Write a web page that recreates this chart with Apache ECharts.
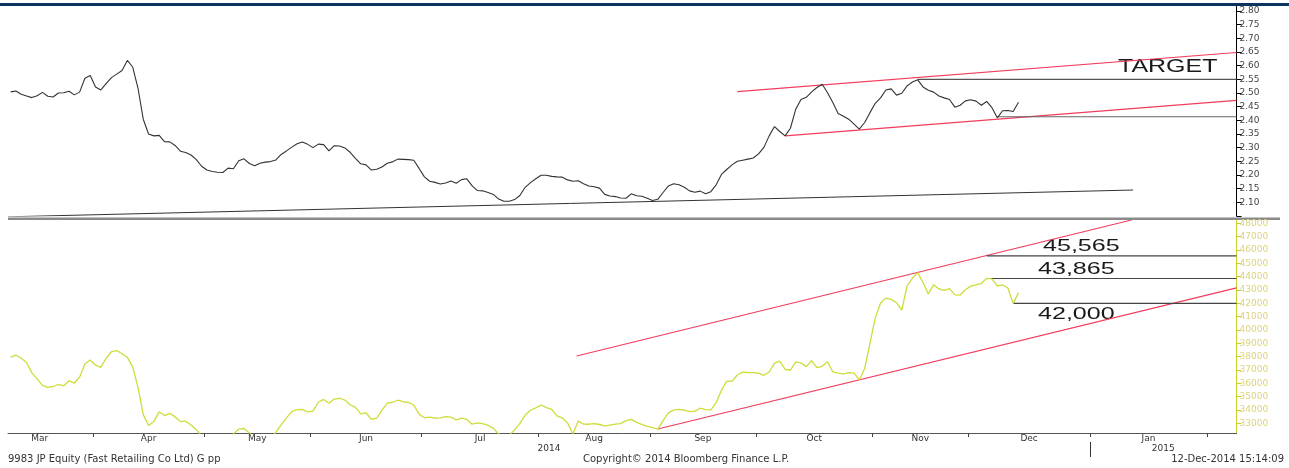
<!DOCTYPE html>
<html><head><meta charset="utf-8">
<script src="https://cdn.jsdelivr.net/npm/echarts@6/dist/echarts.min.js"></script>
<style>html,body{margin:0;padding:0;background:#fff;}#c{width:1289px;height:468px;}</style>
</head><body><div id="c"></div>
<script>
// ---- calendar (trading-day index axis) ----
const months = ['Mar','Apr','May','Jun','Jul','Aug','Sep','Oct','Nov','Dec','Jan','Feb'];
const monthTradingDays = [20,21,20,21,22,21,20,22,18,23,22,20];
const hiddenDaysBeforeStart = 4;          // March trading days before the first plotted day
const yearNames = ['2014','2015'];
const yearStartMonth = 'Jan';

// ---- tick labels ----
const ratioTickValues = [2.05,2.10,2.15,2.20,2.25,2.30,2.35,2.40,2.45,2.50,2.55,2.60,2.65,2.70,2.75,2.80];
const ratioLabelValues = [2.10,2.15,2.20,2.25,2.30,2.35,2.40,2.45,2.50,2.55,2.60,2.65,2.70,2.75,2.80];
const priceTickValues = [33000,34000,35000,36000,37000,38000,39000,40000,41000,42000,43000,44000,45000,46000,47000,48000];

// ---- series: 9983 JP relative (G pp) ratio, daily ----
const ratioSeries = [
2.504,2.507,2.495,2.489,2.483,2.490,2.502,2.488,2.485,2.500,2.501,2.506,2.493,2.503,2.554,2.564,
2.522,2.511,2.534,2.556,2.569,2.582,2.619,2.595,2.518,2.404,2.350,2.343,2.345,2.322,2.321,2.308,2.287,2.282,2.273,2.256,2.232,
2.218,2.213,2.210,2.209,2.225,2.223,2.252,2.259,2.242,2.234,2.243,2.247,2.249,2.255,2.275,2.288,2.302,2.314,2.321,2.312,
2.300,2.313,2.311,2.288,2.307,2.306,2.299,2.283,2.261,2.241,2.237,2.218,2.221,2.229,2.243,2.248,2.258,2.257,2.256,2.254,2.224,
2.193,2.177,2.173,2.167,2.171,2.178,2.170,2.183,2.186,2.160,2.143,2.142,2.136,2.129,2.112,2.104,2.104,2.110,2.125,2.155,2.172,2.186,
2.199,2.199,2.195,2.193,2.192,2.182,2.177,2.179,2.168,2.160,2.157,2.152,2.129,2.123,2.121,2.116,2.115,2.131,2.124,2.122,2.115,
2.107,2.111,2.136,2.160,2.168,2.164,2.155,2.142,2.137,2.141,2.131,2.139,2.164,2.202,2.220,2.237,2.250,2.254,2.258,2.262,
2.277,2.301,2.343,2.377,2.359,2.343,2.371,2.440,2.476,2.484,2.504,2.520,2.532,2.501,2.465,2.425,2.415,2.404,2.386,2.368,2.392,2.428,
2.462,2.482,2.511,2.515,2.492,2.499,2.526,2.540,2.548,2.522,2.510,2.503,2.489,2.482,2.476,2.448,2.455,2.471,
2.475,2.470,2.455,2.469,2.446,2.409,2.435,2.436,2.432,2.466
];
// ---- series: 9983 JP price (JPY), daily ----
const priceSeries = [
37970,38110,37880,37560,36780,36330,35850,35690,35760,35910,35820,36190,36020,36460,37450,37750,
37360,37200,37880,38370,38460,38220,37950,37230,35710,33650,32830,33140,33860,33580,33750,33480,33130,33160,32870,32520,32050,
31750,31600,31670,31750,31970,32200,32570,32610,32270,31900,31670,31750,31970,32310,32880,33410,33880,34020,34050,33850,
33910,34580,34790,34500,34820,34880,34740,34390,34190,33710,33790,33290,33380,33980,34520,34580,34730,34630,34560,34370,33690,
33410,33470,33380,33410,33500,33470,33260,33380,33290,32930,33030,32980,32850,32620,32200,32050,32120,32490,32990,33620,33980,34160,
34370,34170,34050,33560,33400,33020,32200,33170,32940,32930,32980,32910,32810,32870,32930,32980,33200,33290,33070,32920,32770,
32680,32570,33200,33780,34000,34040,33980,33880,33910,34130,34030,34010,34550,35470,36160,36160,36620,36840,36800,36800,
36770,36600,36850,37520,37670,37050,36980,37610,37530,37250,37700,37170,37280,37620,36850,36770,36700,36800,36770,36250,37110,38990,
40910,42020,42390,42300,42050,41500,43320,43900,44300,43560,42700,43400,43080,42980,43100,42630,42620,43020,
43290,43380,43490,43880,43830,43310,43380,43150,42000,42800
];

// ---- drawn trend lines / levels, [trading-day index, value] ----
const ratioChannelUpper = [[137, 2.505], [231.1, 2.648]];
const ratioChannelLower = [[146, 2.343], [231.1, 2.473]];
const ratioTargetLevel  = [[171, 2.55], [231.1, 2.55]];
const ratioSupportLevel = [[186, 2.413], [231.1, 2.413]];
const ratioLongTrend    = [[-0.5, 2.047], [211.6, 2.145]];
const priceChannelUpper = [[106.7, 38050], [211.3, 48253]];
const priceChannelLower = [[122, 32570], [231.1, 43164]];
const priceLevel45565   = [[184, 45565], [231.1, 45565]];
const priceLevel43865   = [[184.6, 43865], [231.1, 43865]];
const priceLevel42000   = [[189, 42000], [231.1, 42000]];

// ---- derived axis helpers ----
const X_MIN = -0.5, X_MAX = 231.1;
const monthBounds = [], monthLabelPos = [], monthLabelText = {};
let start = -hiddenDaysBeforeStart;
let yearBound = null;
months.forEach((m, k) => {
  const b = start - 0.5;
  if (b > X_MIN && b < X_MAX) monthBounds.push(b);
  if (m === yearStartMonth) yearBound = b;
  const c = b + monthTradingDays[k] / 2;
  if (c > X_MIN && c < X_MAX) { monthLabelPos.push(c); monthLabelText[c.toFixed(2)] = m; }
  start += monthTradingDays[k];
});
const yearLabelPos = [(X_MIN + yearBound) / 2, (yearBound + X_MAX) / 2];
const yearLabelText = {};
yearLabelPos.forEach((p, i) => yearLabelText[p.toFixed(2)] = yearNames[i]);

const FONT = 'DejaVu Sans';
const RED = '#f23c5c';
const YEL = '#cfdc3a';

function lineSeries(data, xi, yi, color, width, z) {
  return { type: 'line', xAxisIndex: xi, yAxisIndex: yi, data: data, showSymbol: false, symbol: 'none',
    lineStyle: { color: color, width: width }, silent: true, animation: false, z: z || 2 };
}

const chart = echarts.init(document.getElementById('c'), null, { renderer: 'canvas' });
chart.setOption({
  backgroundColor: '#ffffff',
  animation: false,
  grid: [
    { left: 8, right: 52.5, top: 6, height: 210 },
    { left: 8, right: 52.5, top: 220, height: 213 }
  ],
  xAxis: [
    { type: 'value', gridIndex: 0, min: X_MIN, max: X_MAX, show: false },
    { type: 'value', gridIndex: 1, min: X_MIN, max: X_MAX, position: 'bottom',
      axisLine: { show: true, onZero: false, lineStyle: { color: '#555', width: 1 } },
      axisTick: { show: true, customValues: monthBounds, length: 4, lineStyle: { color: '#444' } },
      axisLabel: { customValues: monthLabelPos, formatter: v => monthLabelText[v.toFixed(2)] || '',
        fontSize: 9, fontFamily: FONT, color: '#333', margin: 1 },
      splitLine: { show: false } },
    { type: 'value', gridIndex: 1, min: X_MIN, max: X_MAX, position: 'bottom', offset: 9,
      axisLine: { show: false, onZero: false },
      axisTick: { show: true, customValues: [yearBound], length: 15, lineStyle: { color: '#333' } },
      axisLabel: { customValues: yearLabelPos, formatter: v => yearLabelText[v.toFixed(2)] || '',
        fontSize: 9, fontFamily: FONT, color: '#333', margin: 2 },
      splitLine: { show: false } }
  ],
  yAxis: [
    { type: 'value', gridIndex: 0, position: 'right', min: 2.05, max: 2.818,
      axisLine: { show: true, onZero: false, lineStyle: { color: '#000', width: 1 } },
      axisTick: { show: true, customValues: ratioTickValues, length: 5, lineStyle: { color: '#000' } },
      axisLabel: { customValues: ratioLabelValues, formatter: v => v.toFixed(2),
        fontSize: 9, fontFamily: FONT, color: '#444', margin: 3 },
      splitLine: { show: false } },
    { type: 'value', gridIndex: 1, position: 'right', min: 32272, max: 48253,
      axisLine: { show: true, onZero: false, lineStyle: { color: '#c8d02c', width: 1 } },
      axisTick: { show: true, customValues: priceTickValues, length: 5, lineStyle: { color: '#c8d02c' } },
      axisLabel: { customValues: priceTickValues, formatter: v => String(v),
        fontSize: 9, fontFamily: FONT, color: '#dcd27c', margin: 3 },
      splitLine: { show: false } }
  ],
  series: [
    lineSeries(ratioLongTrend, 0, 0, '#333', 1),
    lineSeries(ratioChannelUpper, 0, 0, RED, 1.2),
    lineSeries(ratioChannelLower, 0, 0, RED, 1.2),
    lineSeries(ratioTargetLevel, 0, 0, '#555', 1.2),
    lineSeries(ratioSupportLevel, 0, 0, '#666', 1.2),
    lineSeries(ratioSeries.map((v, i) => [i, v]), 0, 0, '#333', 1.1, 5),
    lineSeries(priceChannelUpper, 1, 1, RED, 1.2),
    lineSeries(priceChannelLower, 1, 1, RED, 1.2),
    lineSeries(priceLevel45565, 1, 1, '#444', 1.2),
    lineSeries(priceLevel43865, 1, 1, '#444', 1.2),
    lineSeries(priceLevel42000, 1, 1, '#444', 1.2),
    lineSeries(priceSeries.map((v, i) => [i, v]), 1, 1, YEL, 1.3, 5)
  ],
  graphic: [
    { type: 'rect', shape: { x: 0, y: 3, width: 1289, height: 3 }, style: { fill: '#0c3461' }, silent: true },
    { type: 'rect', shape: { x: 8, y: 217.5, width: 1272, height: 2.5 }, style: { fill: '#8a8a8a' }, silent: true },
    { type: 'text', x: 1118, y: 67, scaleX: 1.35, silent: true,
      style: { text: 'TARGET', fontSize: 18.5, fontFamily: 'Liberation Sans', fill: '#1a1a1a', verticalAlign: 'middle' } },
    { type: 'text', x: 1043, y: 246.5, scaleX: 1.52, silent: true,
      style: { text: '45,565', fontSize: 16.5, fontFamily: 'Liberation Sans', fill: '#1a1a1a', verticalAlign: 'middle' } },
    { type: 'text', x: 1038, y: 269.5, scaleX: 1.52, silent: true,
      style: { text: '43,865', fontSize: 16.5, fontFamily: 'Liberation Sans', fill: '#1a1a1a', verticalAlign: 'middle' } },
    { type: 'text', x: 1038, y: 314.5, scaleX: 1.52, silent: true,
      style: { text: '42,000', fontSize: 16.5, fontFamily: 'Liberation Sans', fill: '#1a1a1a', verticalAlign: 'middle' } },
    { type: 'text', x: 8, y: 459, silent: true,
      style: { text: '9983 JP Equity (Fast Retailing Co Ltd) G pp', fontSize: 10, fontFamily: FONT, fill: '#333', verticalAlign: 'middle' } },
    { type: 'text', x: 583, y: 459, silent: true,
      style: { text: 'Copyright\u00a9 2014 Bloomberg Finance L.P.', fontSize: 10, fontFamily: FONT, fill: '#333', verticalAlign: 'middle' } },
    { type: 'text', x: 1284, y: 459, silent: true,
      style: { text: '12-Dec-2014 15:14:09', fontSize: 10, fontFamily: FONT, fill: '#333', align: 'right', verticalAlign: 'middle' } }
  ]
});
</script>
</body></html>
